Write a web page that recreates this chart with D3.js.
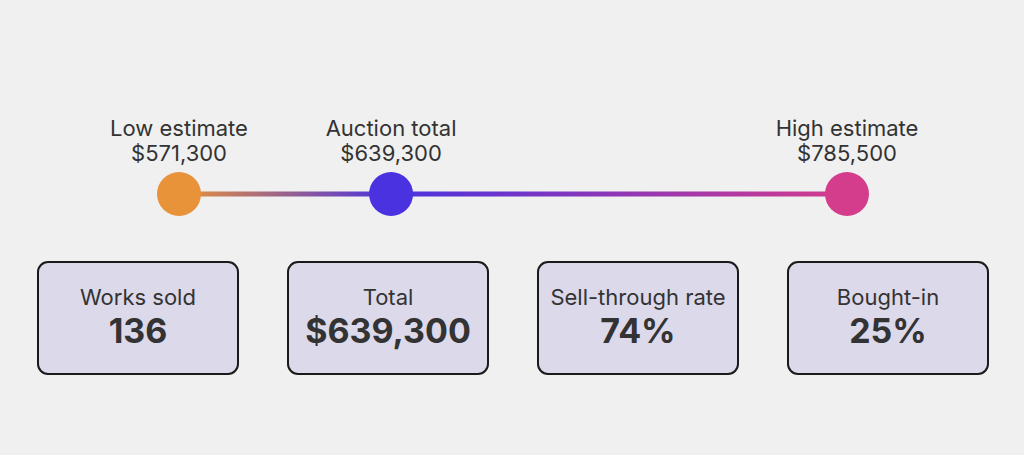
<!DOCTYPE html>
<html>
<head>
<meta charset="utf-8">
<script src="https://cdn.jsdelivr.net/npm/d3@7"></script>
<style>
  html, body { margin: 0; padding: 0; background: #f0f0f0; }
  svg { display: block; font-family: Inter, "Noto Sans", sans-serif; }
</style>
</head>
<body>
<div id="chart"></div>
<script>
// estimate range markers
const markerLabels = ['Low estimate', 'Auction total', 'High estimate'];
const markerValues = [571300, 639300, 785500];
const markerColors = ['#e8923a', '#4a32e0', '#d43c8c'];

// summary cards
const cardLabels = ['Works sold', 'Total', 'Sell-through rate', 'Bought-in'];
const cardValues = ['136', '$639,300', '74%', '25%'];

const width = 1024;
const height = 455;
const fmt = d3.format('$,');

const svg = d3.select('#chart').append('svg')
  .attr('width', width).attr('height', height);

svg.append('rect').attr('width', width).attr('height', height).attr('fill', '#f0f0f0');

const x = d3.scaleLinear()
  .domain([markerValues[0], markerValues[2]])
  .range([179, 847]);
const lineY = 194;

// gradient along the line, stops at each marker
const grad = svg.append('defs').append('linearGradient')
  .attr('id', 'rangeGrad')
  .attr('gradientUnits', 'userSpaceOnUse')
  .attr('x1', x(markerValues[0])).attr('x2', x(markerValues[2]))
  .attr('y1', 0).attr('y2', 0);
grad.selectAll('stop').data(markerValues).enter().append('stop')
  .attr('offset', d => (x(d) - x(markerValues[0])) / (x(markerValues[2]) - x(markerValues[0])))
  .attr('stop-color', (d, i) => markerColors[i]);

svg.append('line')
  .attr('x1', x(markerValues[0])).attr('x2', x(markerValues[2]))
  .attr('y1', lineY).attr('y2', lineY)
  .attr('stroke', 'url(#rangeGrad)')
  .attr('stroke-width', 5);

const m = svg.append('g').selectAll('g').data(markerValues).enter().append('g')
  .attr('transform', d => `translate(${x(d)},${lineY})`);

m.append('circle').attr('r', 22).attr('fill', (d, i) => markerColors[i]);

m.append('text')
  .attr('y', -58).attr('text-anchor', 'middle')
  .attr('font-size', 22).attr('fill', '#333')
  .text((d, i) => markerLabels[i]);

m.append('text')
  .attr('y', -33).attr('text-anchor', 'middle')
  .attr('font-size', 22).attr('fill', '#333')
  .text(d => fmt(d));

// cards
const band = d3.scaleBand()
  .domain(cardLabels)
  .range([13, 1013])
  .paddingInner(0.2)
  .paddingOuter(0.1);

const c = svg.append('g').selectAll('g').data(cardLabels).enter().append('g')
  .attr('transform', d => `translate(${band(d)},262)`);

c.append('rect')
  .attr('width', band.bandwidth()).attr('height', 112)
  .attr('rx', 10)
  .attr('fill', '#dcd9eb')
  .attr('stroke', '#1a1a1a').attr('stroke-width', 2);

c.append('text')
  .attr('x', band.bandwidth() / 2).attr('y', 43)
  .attr('text-anchor', 'middle')
  .attr('font-size', 22).attr('fill', '#333')
  .text(d => d);

c.append('text')
  .attr('x', band.bandwidth() / 2).attr('y', 81)
  .attr('text-anchor', 'middle')
  .attr('font-size', 34).attr('font-weight', 'bold').attr('fill', '#333')
  .text((d, i) => cardValues[i]);
</script>
</body>
</html>
